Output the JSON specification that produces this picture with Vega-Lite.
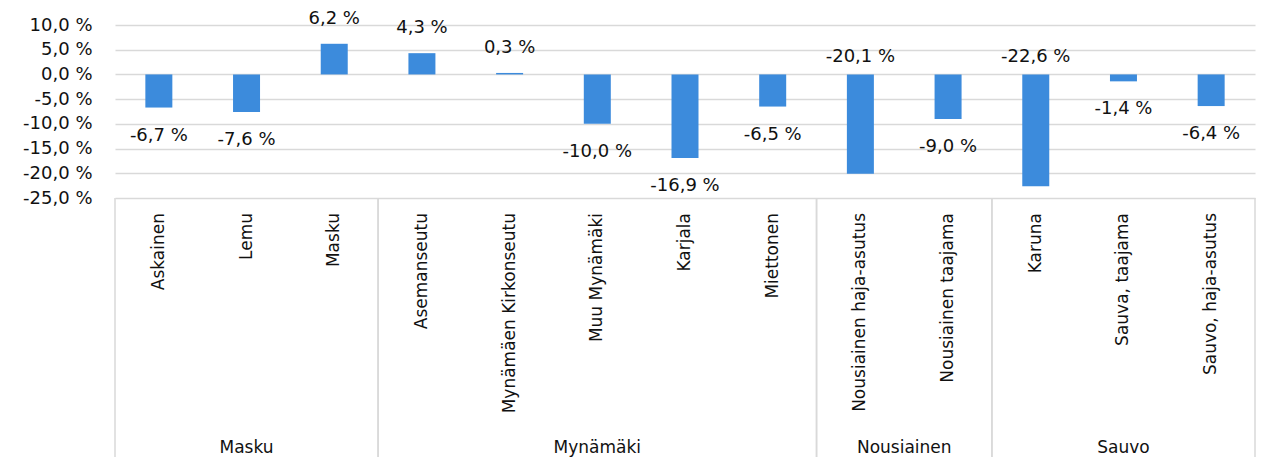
{
  "$schema": "https://vega.github.io/schema/vega-lite/v6.json",
  "autosize": {"type": "pad"},
  "padding": {"left": 22, "top": 9, "right": 5, "bottom": 0},
  "background": "white",
  "spacing": 0,
  "bounds": "flush",
  "config": {
    "view": {"stroke": null},
    "font": "DejaVu Sans",
    "text": {"color": "#111111"}
  },
  "datasets": {
    "alueet": [
      {"kunta": "Masku", "alue": "Askainen", "muutos": -6.7},
      {"kunta": "Masku", "alue": "Lemu", "muutos": -7.6},
      {"kunta": "Masku", "alue": "Masku", "muutos": 6.2},
      {"kunta": "Mynämäki", "alue": "Asemanseutu", "muutos": 4.3},
      {"kunta": "Mynämäki", "alue": "Mynämäen Kirkonseutu", "muutos": 0.3},
      {"kunta": "Mynämäki", "alue": "Muu Mynämäki", "muutos": -10.0},
      {"kunta": "Mynämäki", "alue": "Karjala", "muutos": -16.9},
      {"kunta": "Mynämäki", "alue": "Miettonen", "muutos": -6.5},
      {"kunta": "Nousiainen", "alue": "Nousiainen haja-asutus", "muutos": -20.1},
      {"kunta": "Nousiainen", "alue": "Nousiainen taajama", "muutos": -9.0},
      {"kunta": "Sauvo", "alue": "Karuna", "muutos": -22.6},
      {"kunta": "Sauvo", "alue": "Sauva, taajama", "muutos": -1.4},
      {"kunta": "Sauvo", "alue": "Sauvo, haja-asutus", "muutos": -6.4}
    ],
    "kunnat": [
      {"kunta": "Masku", "eka": "Askainen", "keski": "Lemu", "vika": "Masku"},
      {"kunta": "Mynämäki", "eka": "Asemanseutu", "keski": "Muu Mynämäki", "vika": "Miettonen"},
      {"kunta": "Nousiainen", "eka": "Nousiainen haja-asutus", "keski": "Nousiainen haja-asutus", "vika": "Nousiainen taajama"},
      {"kunta": "Sauvo", "eka": "Karuna", "keski": "Sauva, taajama", "vika": "Sauvo, haja-asutus"}
    ]
  },
  "vconcat": [
    {
      "width": 1140,
      "height": 173,
      "data": {"name": "alueet"},
      "transform": [
        {"calculate": "(datum.muutos < 0 ? '-' : '') + replace(format(abs(datum.muutos), '.1f'), '.', ',') + ' %'", "as": "label"}
      ],
      "encoding": {
        "x": {
          "field": "alue",
          "type": "nominal",
          "sort": null,
          "scale": {
            "domain": ["Askainen", "Lemu", "Masku", "Asemanseutu", "Mynämäen Kirkonseutu", "Muu Mynämäki", "Karjala", "Miettonen", "Nousiainen haja-asutus", "Nousiainen taajama", "Karuna", "Sauva, taajama", "Sauvo, haja-asutus"],
            "paddingInner": 0,
            "paddingOuter": 0
          },
          "axis": null
        }
      },
      "layer": [
        {
          "mark": {"type": "bar", "color": "#3C8BDC", "width": 27},
          "encoding": {
            "y": {
              "field": "muutos",
              "type": "quantitative",
              "scale": {"domain": [-25, 10], "nice": false, "zero": false},
              "axis": {
                "values": [-25, -20, -15, -10, -5, 0, 5, 10],
                "tickCount": 20,
                "title": null,
                "domain": false,
                "ticks": false,
                "labelOverlap": false,
                "labelFlush": false,
                "labelPadding": 23,
                "labelFontSize": 18,
                "labelColor": "#111111",
                "labelFont": "DejaVu Sans",
                "gridColor": "#D9D9D9",
                "gridWidth": 1.5,
                "labelExpr": "(datum.value < 0 ? '-' : '') + replace(format(abs(datum.value), '.1f'), '.', ',') + ' %'"
              }
            }
          }
        },
        {
          "transform": [{"filter": "datum.muutos >= 0"}],
          "mark": {"type": "text", "fontSize": 18, "baseline": "middle", "dy": -25},
          "encoding": {
            "y": {"field": "muutos", "type": "quantitative"},
            "text": {"field": "label"}
          }
        },
        {
          "transform": [{"filter": "datum.muutos < 0 && datum.muutos > -18"}],
          "mark": {"type": "text", "fontSize": 18, "baseline": "middle", "dy": 28},
          "encoding": {
            "y": {"field": "muutos", "type": "quantitative"},
            "text": {"field": "label"}
          }
        },
        {
          "transform": [{"filter": "datum.muutos <= -18"}],
          "mark": {"type": "text", "fontSize": 18, "baseline": "middle", "dy": -17.5},
          "encoding": {
            "y": {"datum": 0, "type": "quantitative"},
            "text": {"field": "label"}
          }
        }
      ]
    },
    {
      "width": 1140,
      "height": 260,
      "encoding": {
        "x": {
          "type": "nominal",
          "scale": {
            "domain": ["Askainen", "Lemu", "Masku", "Asemanseutu", "Mynämäen Kirkonseutu", "Muu Mynämäki", "Karjala", "Miettonen", "Nousiainen haja-asutus", "Nousiainen taajama", "Karuna", "Sauva, taajama", "Sauvo, haja-asutus"],
            "paddingInner": 0,
            "paddingOuter": 0
          },
          "axis": null
        }
      },
      "layer": [
        {
          "data": {"name": "kunnat"},
          "mark": {"type": "rule", "color": "#D9D9D9", "strokeWidth": 1.5},
          "encoding": {"x": {"field": "eka", "type": "nominal", "bandPosition": 0}}
        },
        {
          "data": {"name": "kunnat"},
          "mark": {"type": "rule", "color": "#D9D9D9", "strokeWidth": 1.5},
          "encoding": {"x": {"field": "vika", "type": "nominal", "bandPosition": 1}}
        },
        {
          "data": {"name": "alueet"},
          "mark": {"type": "text", "fontSize": 17, "angle": 270, "align": "right", "baseline": "middle", "dx": -15},
          "encoding": {
            "x": {"field": "alue", "type": "nominal"},
            "y": {"datum": 1, "type": "quantitative", "scale": {"domain": [0, 1]}, "axis": null},
            "text": {"field": "alue"}
          }
        },
        {
          "data": {"name": "kunnat"},
          "transform": [{"filter": "datum.kunta != 'Nousiainen'"}],
          "mark": {"type": "text", "fontSize": 17, "baseline": "middle", "dy": -10},
          "encoding": {
            "x": {"field": "keski", "type": "nominal", "bandPosition": 0.5},
            "y": {"datum": 0, "type": "quantitative"},
            "text": {"field": "kunta"}
          }
        },
        {
          "data": {"name": "kunnat"},
          "transform": [{"filter": "datum.kunta == 'Nousiainen'"}],
          "mark": {"type": "text", "fontSize": 17, "baseline": "middle", "dy": -10},
          "encoding": {
            "x": {"field": "keski", "type": "nominal", "bandPosition": 1},
            "y": {"datum": 0, "type": "quantitative"},
            "text": {"field": "kunta"}
          }
        }
      ]
    }
  ]
}
